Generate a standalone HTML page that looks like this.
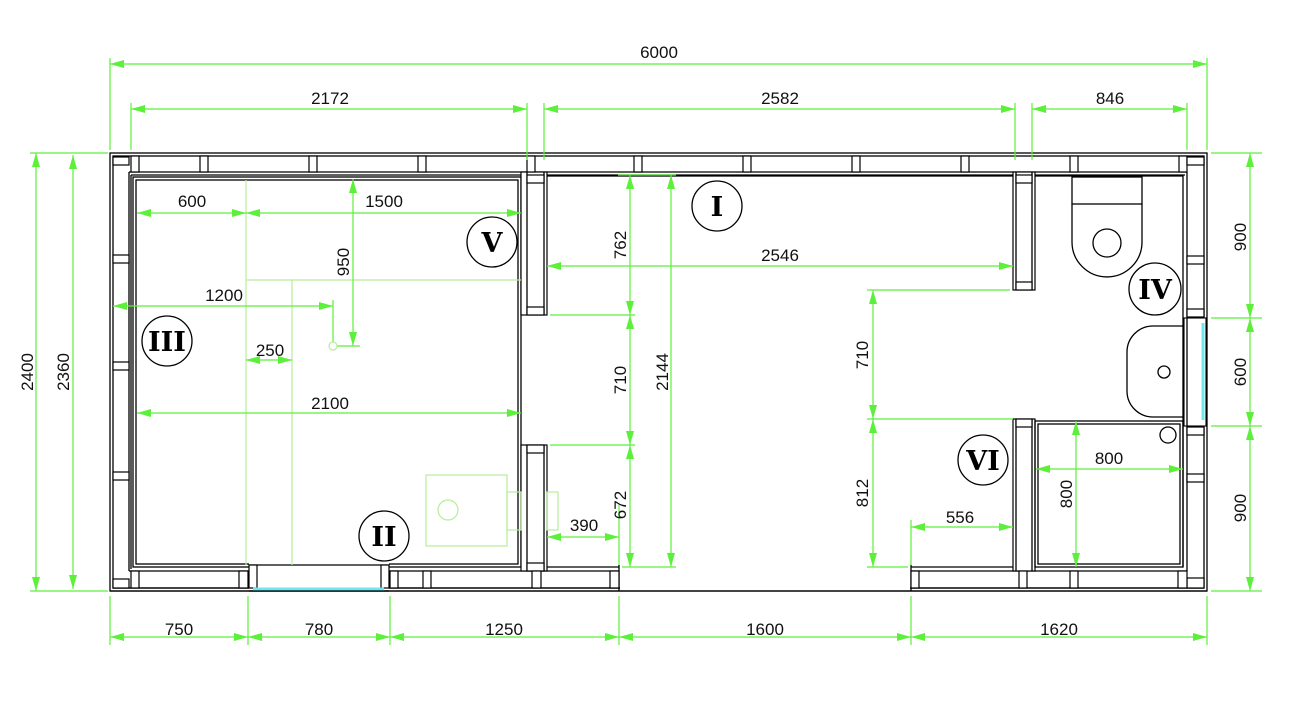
<!DOCTYPE html>
<html><head><meta charset="utf-8"><style>
html,body{margin:0;padding:0;background:#fff;}
svg{display:block;}
.w{stroke:#000;stroke-width:1.3;fill:none;}
.s{stroke:#000;stroke-width:1.2;fill:#fff;}
.d{stroke:#5cf03a;stroke-width:1.2;fill:none;}
.e{stroke:#b8ec9c;stroke-width:1.2;fill:none;}
.t{font-family:"Liberation Sans","DejaVu Sans",sans-serif;font-size:17px;fill:#111;text-anchor:middle;}
.r{font-family:"DejaVu Serif","Liberation Serif",serif;font-size:27px;font-weight:bold;fill:#000;text-anchor:middle;}
.c{stroke:#000;stroke-width:1.3;fill:#fff;}
</style></head><body>
<svg width="1292" height="712" viewBox="0 0 1292 712" xmlns="http://www.w3.org/2000/svg">
<defs>
<marker id="a" markerUnits="userSpaceOnUse" markerWidth="14" markerHeight="8" refX="14" refY="4" orient="auto-start-reverse"><path d="M0,0 L14,4 L0,8 z" fill="#5cf03a"/></marker>
</defs>

<rect class="w" x="110" y="153" width="1097" height="438"/>
<rect class="w" x="113" y="156" width="1091" height="432"/>
<line class="w" x1="129" y1="172" x2="1187" y2="172"/>
<line class="w" x1="131" y1="175" x2="1185" y2="175"/>
<line class="w" x1="129" y1="172" x2="129" y2="571"/>
<line class="w" x1="131" y1="175" x2="131" y2="569"/>
<line class="w" x1="1187" y1="172" x2="1187" y2="318"/>
<line class="w" x1="1187" y1="426" x2="1187" y2="571"/>
<line class="w" x1="1183" y1="175" x2="1183" y2="567"/>
<line class="w" x1="129" y1="571" x2="249" y2="571"/>
<line class="w" x1="389" y1="571" x2="619" y2="571"/>
<line class="w" x1="911" y1="571" x2="1187" y2="571"/>
<rect x="620" y="570" width="290" height="19" fill="#fff"/>
<line class="w" x1="619" y1="565" x2="619" y2="591"/>
<line class="w" x1="911" y1="565" x2="911" y2="591"/>
<line class="w" x1="113" y1="588" x2="619" y2="588"/>
<line class="w" x1="911" y1="588" x2="1204" y2="588"/>
<line class="w" x1="110" y1="591" x2="1207" y2="591"/>

<rect class="w" x="133" y="177" width="388" height="390"/>
<rect class="w" x="136" y="180" width="382" height="384"/>
<rect x="249" y="562" width="140" height="28" fill="#fff"/>
<line class="w" x1="249" y1="565" x2="389" y2="565"/>
<rect class="s" x="249" y="565" width="8" height="23"/>
<rect class="s" x="381" y="565" width="8" height="23"/>
<line x1="253" y1="589" x2="384" y2="589" stroke="#6ee8ee" stroke-width="3"/>
<line class="w" x1="249" y1="591" x2="389" y2="591"/>

<rect class="s" x="521" y="172" width="26" height="143"/>
<line class="w" x1="527" y1="172" x2="527" y2="315"/>
<line class="w" x1="544" y1="172" x2="544" y2="315"/>
<rect class="s" x="527" y="175" width="17" height="8"/>
<rect class="s" x="527" y="307" width="17" height="8"/>
<rect class="s" x="521" y="445" width="26" height="126"/>
<line class="w" x1="527" y1="445" x2="527" y2="571"/>
<line class="w" x1="544" y1="445" x2="544" y2="571"/>
<rect class="s" x="527" y="445" width="17" height="8"/>
<rect class="s" x="527" y="563" width="17" height="8"/>
<line class="w" x1="547" y1="176" x2="1013" y2="176"/>
<line class="w" x1="547" y1="567" x2="619" y2="567"/>
<line class="w" x1="911" y1="567" x2="1013" y2="567"/>

<rect class="s" x="1013" y="172" width="22" height="118"/>
<line class="w" x1="1016" y1="172" x2="1016" y2="290"/>
<line class="w" x1="1032" y1="172" x2="1032" y2="290"/>
<rect class="s" x="1016" y="175" width="16" height="8"/>
<rect class="s" x="1016" y="282" width="16" height="8"/>
<rect class="s" x="1013" y="419" width="22" height="152"/>
<line class="w" x1="1016" y1="419" x2="1016" y2="571"/>
<line class="w" x1="1032" y1="419" x2="1032" y2="571"/>
<rect class="s" x="1016" y="419" width="16" height="8"/>
<line class="w" x1="1035" y1="176" x2="1183" y2="176"/>

<g>
<rect class="s" x="131" y="156" width="8" height="16"/>
<rect class="s" x="200" y="156" width="8" height="16"/>
<rect class="s" x="309" y="156" width="8" height="16"/>
<rect class="s" x="418" y="156" width="8" height="16"/>
<rect class="s" x="527" y="156" width="8" height="16"/>
<rect class="s" x="634" y="156" width="8" height="16"/>
<rect class="s" x="743" y="156" width="8" height="16"/>
<rect class="s" x="852" y="156" width="8" height="16"/>
<rect class="s" x="961" y="156" width="8" height="16"/>
<rect class="s" x="1070" y="156" width="8" height="16"/>
<rect class="s" x="1179" y="156" width="8" height="16"/>
</g>
<g>
<rect class="s" x="113" y="157" width="16" height="8"/>
<rect class="s" x="113" y="255" width="16" height="8"/>
<rect class="s" x="113" y="362" width="16" height="8"/>
<rect class="s" x="113" y="472" width="16" height="8"/>
<rect class="s" x="113" y="579" width="16" height="9"/>
</g>
<g>
<rect class="s" x="1187" y="157" width="17" height="8"/>
<rect class="s" x="1187" y="256" width="17" height="8"/>
<rect class="s" x="1187" y="309" width="17" height="8"/>
<rect class="s" x="1187" y="427" width="17" height="8"/>
<rect class="s" x="1187" y="474" width="17" height="8"/>
<rect class="s" x="1187" y="578" width="17" height="10"/>
</g>
<g>
<rect class="s" x="131" y="571" width="8" height="17"/>
<rect class="s" x="239" y="571" width="9" height="17"/>
<rect class="s" x="390" y="571" width="8" height="17"/>
<rect class="s" x="423" y="571" width="8" height="17"/>
<rect class="s" x="532" y="571" width="9" height="17"/>
<rect class="s" x="610" y="571" width="9" height="17"/>
<rect class="s" x="911" y="571" width="8" height="17"/>
<rect class="s" x="1019" y="571" width="8" height="17"/>
<rect class="s" x="1070" y="571" width="8" height="17"/>
<rect class="s" x="1178" y="571" width="9" height="17"/>
</g>

<rect x="1184" y="318" width="22" height="108" fill="#fff" stroke="#000" stroke-width="1.1"/>
<line class="w" x1="1187" y1="318" x2="1187" y2="426"/>
<line x1="1203" y1="323" x2="1203" y2="420" stroke="#6ee8ee" stroke-width="3"/>

<rect class="w" x="1072" y="177" width="70" height="27"/>
<path class="w" d="M1072,204 L1072,242 A35,35 0 0 0 1142,242 L1142,204"/>
<circle class="w" cx="1107" cy="243" r="14"/>
<path class="w" d="M1183,326 L1153,326 A26,26 0 0 0 1127,352 L1127,391 A26,26 0 0 0 1153,417 L1183,417"/>
<circle class="w" cx="1164" cy="372" r="6"/>
<circle class="w" cx="1168" cy="435" r="8"/>
<rect class="w" x="1035" y="421" width="148" height="146"/>
<rect class="w" x="1038" y="424" width="142" height="140"/>

<rect class="e" x="426" y="475" width="81" height="71"/>
<circle class="e" cx="448" cy="510" r="10"/>
<rect class="e" x="507" y="492" width="14" height="38"/>
<rect class="e" x="547" y="492" width="11" height="38"/>

<line class="e" x1="246" y1="180" x2="246" y2="565"/>
<line class="e" x1="246" y1="280" x2="521" y2="280"/>
<line class="e" x1="292" y1="280" x2="292" y2="565"/>

<g class="d">
<line x1="110" y1="64" x2="1207" y2="64" marker-start="url(#a)" marker-end="url(#a)"/>
<line x1="110" y1="58" x2="110" y2="150"/>
<line x1="1207" y1="58" x2="1207" y2="150"/>
<line x1="131" y1="109" x2="527" y2="109" marker-start="url(#a)" marker-end="url(#a)"/>
<line x1="544" y1="109" x2="1015" y2="109" marker-start="url(#a)" marker-end="url(#a)"/>
<line x1="1032" y1="109" x2="1187" y2="109" marker-start="url(#a)" marker-end="url(#a)"/>
<line x1="131" y1="103" x2="131" y2="150"/>
<line x1="527" y1="103" x2="527" y2="160"/>
<line x1="544" y1="103" x2="544" y2="160"/>
<line x1="1015" y1="103" x2="1015" y2="160"/>
<line x1="1032" y1="103" x2="1032" y2="160"/>
<line x1="1187" y1="103" x2="1187" y2="150"/>
<line x1="36" y1="153" x2="36" y2="591" marker-start="url(#a)" marker-end="url(#a)"/>
<line x1="73" y1="155" x2="73" y2="589" marker-start="url(#a)" marker-end="url(#a)"/>
<line x1="30" y1="153" x2="108" y2="153"/>
<line x1="30" y1="591" x2="108" y2="591"/>
<line x1="1250" y1="153" x2="1250" y2="318" marker-start="url(#a)" marker-end="url(#a)"/>
<line x1="1250" y1="318" x2="1250" y2="426" marker-start="url(#a)" marker-end="url(#a)"/>
<line x1="1250" y1="426" x2="1250" y2="591" marker-start="url(#a)" marker-end="url(#a)"/>
<line x1="1211" y1="153" x2="1262" y2="153"/>
<line x1="1211" y1="318" x2="1262" y2="318"/>
<line x1="1211" y1="426" x2="1262" y2="426"/>
<line x1="1211" y1="591" x2="1262" y2="591"/>
<line x1="110" y1="637" x2="248" y2="637" marker-start="url(#a)" marker-end="url(#a)"/>
<line x1="248" y1="637" x2="390" y2="637" marker-start="url(#a)" marker-end="url(#a)"/>
<line x1="390" y1="637" x2="619" y2="637" marker-start="url(#a)" marker-end="url(#a)"/>
<line x1="619" y1="637" x2="911" y2="637" marker-start="url(#a)" marker-end="url(#a)"/>
<line x1="911" y1="637" x2="1207" y2="637" marker-start="url(#a)" marker-end="url(#a)"/>
<line x1="110" y1="596" x2="110" y2="645"/>
<line x1="248" y1="596" x2="248" y2="645"/>
<line x1="390" y1="596" x2="390" y2="645"/>
<line x1="619" y1="596" x2="619" y2="645"/>
<line x1="911" y1="596" x2="911" y2="645"/>
<line x1="1207" y1="596" x2="1207" y2="645"/>
<line x1="137" y1="213" x2="246" y2="213" marker-start="url(#a)" marker-end="url(#a)"/>
<line x1="246" y1="213" x2="521" y2="213" marker-start="url(#a)" marker-end="url(#a)"/>
<line x1="353" y1="179" x2="353" y2="346" marker-start="url(#a)" marker-end="url(#a)"/>
<line x1="337" y1="346" x2="360" y2="346"/>
<line x1="113" y1="306" x2="333" y2="306" marker-start="url(#a)" marker-end="url(#a)"/>
<line x1="333" y1="300" x2="333" y2="342"/>
<line x1="246" y1="360" x2="292" y2="360" marker-start="url(#a)" marker-end="url(#a)"/>
<line x1="137" y1="413" x2="521" y2="413" marker-start="url(#a)" marker-end="url(#a)"/>
<line x1="630" y1="175" x2="630" y2="315" marker-start="url(#a)" marker-end="url(#a)"/>
<line x1="630" y1="315" x2="630" y2="445" marker-start="url(#a)" marker-end="url(#a)"/>
<line x1="630" y1="445" x2="630" y2="567" marker-start="url(#a)" marker-end="url(#a)"/>
<line x1="671" y1="175" x2="671" y2="567" marker-start="url(#a)" marker-end="url(#a)"/>
<line x1="618" y1="175" x2="676" y2="175"/>
<line x1="550" y1="315" x2="635" y2="315"/>
<line x1="550" y1="445" x2="635" y2="445"/>
<line x1="622" y1="567" x2="676" y2="567"/>
<line x1="547" y1="266" x2="1013" y2="266" marker-start="url(#a)" marker-end="url(#a)"/>
<line x1="547" y1="537" x2="619" y2="537" marker-start="url(#a)" marker-end="url(#a)"/>
<line x1="619" y1="505" x2="619" y2="565"/>
<line x1="873" y1="290" x2="873" y2="419" marker-start="url(#a)" marker-end="url(#a)"/>
<line x1="873" y1="419" x2="873" y2="567" marker-start="url(#a)" marker-end="url(#a)"/>
<line x1="867" y1="290" x2="1010" y2="290"/>
<line x1="867" y1="419" x2="1013" y2="419"/>
<line x1="867" y1="567" x2="908" y2="567"/>
<line x1="911" y1="527" x2="1013" y2="527" marker-start="url(#a)" marker-end="url(#a)"/>
<line x1="911" y1="520" x2="911" y2="565"/>
<line x1="1036" y1="469" x2="1183" y2="469" marker-start="url(#a)" marker-end="url(#a)"/>
<line x1="1076" y1="421" x2="1076" y2="567" marker-start="url(#a)" marker-end="url(#a)"/>
</g>
<circle cx="333" cy="346" r="4" fill="#fff" stroke="#b8ec9c" stroke-width="1.2"/>

<g class="t">
<text x="659" y="58">6000</text>
<text x="330" y="104">2172</text>
<text x="780" y="104">2582</text>
<text x="1110" y="104">846</text>
<text x="179" y="635">750</text>
<text x="319" y="635">780</text>
<text x="504" y="635">1250</text>
<text x="765" y="635">1600</text>
<text x="1059" y="635">1620</text>
<text x="192" y="207">600</text>
<text x="384" y="207">1500</text>
<text x="224" y="301">1200</text>
<text x="270" y="356">250</text>
<text x="330" y="409">2100</text>
<text x="780" y="261">2546</text>
<text x="584" y="531">390</text>
<text x="960" y="523">556</text>
<text x="1109" y="464">800</text>
<text transform="translate(33,372) rotate(-90)">2400</text>
<text transform="translate(69,372) rotate(-90)">2360</text>
<text transform="translate(1246,237) rotate(-90)">900</text>
<text transform="translate(1246,372) rotate(-90)">600</text>
<text transform="translate(1246,508) rotate(-90)">900</text>
<text transform="translate(349,262) rotate(-90)">950</text>
<text transform="translate(626,245) rotate(-90)">762</text>
<text transform="translate(626,380) rotate(-90)">710</text>
<text transform="translate(626,505) rotate(-90)">672</text>
<text transform="translate(668,372) rotate(-90)">2144</text>
<text transform="translate(868,355) rotate(-90)">710</text>
<text transform="translate(868,493) rotate(-90)">812</text>
<text transform="translate(1072,494) rotate(-90)">800</text>
</g>

<circle class="c" cx="167" cy="341" r="25"/><text class="r" x="167" y="351">III</text>
<circle class="c" cx="492" cy="242" r="25"/><text class="r" x="492" y="252">V</text>
<circle class="c" cx="384" cy="536" r="25"/><text class="r" x="384" y="546">II</text>
<circle class="c" cx="717" cy="206" r="25"/><text class="r" x="717" y="216">I</text>
<circle class="c" cx="983" cy="460" r="25"/><text class="r" x="983" y="470">VI</text>
<circle class="c" cx="1155" cy="289" r="26"/><text class="r" x="1155" y="299">IV</text>
</svg>
</body></html>
